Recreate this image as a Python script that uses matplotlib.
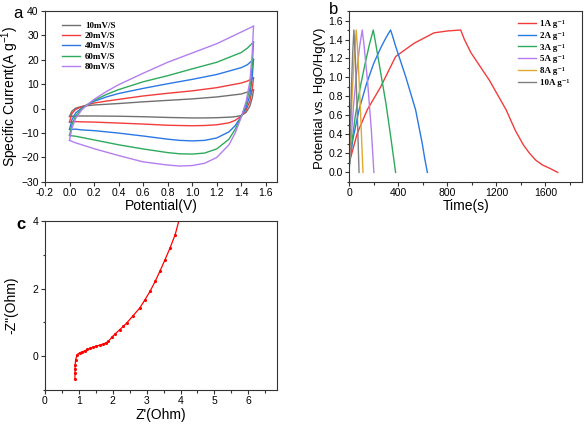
import numpy as np
import matplotlib
matplotlib.use("Agg")
import matplotlib.pyplot as plt
from matplotlib.ticker import MultipleLocator

plt.rcParams['font.family'] = ['Liberation Sans', 'DejaVu Sans']
plt.rcParams['mathtext.default'] = 'regular'

# ---- (a) CV curves, anodic branch (0 -> 1.5 V) and cathodic branch (1.5 -> 0 V)
cv_labels = ["10mV/S", "20mV/S", "40mV/S", "60mV/S", "80mV/S"]
cv_colors = ["#707070", "#f23c3c", "#2a78e4", "#2eaa5c", "#b47ef0"]

cv_up_x = [0, 0.02, 0.05, 0.1, 0.16, 0.2, 0.3, 0.4, 0.6, 0.8, 1.0, 1.2, 1.4, 1.45, 1.5]
cv_up_10 = [-3.2, -1.0, 0.2, 0.9, 1.3, 1.5, 1.8, 2.1, 2.8, 3.4, 4.0, 4.8, 6.0, 6.8, 7.7]
cv_up_20 = [-5.5, -2.0, -0.3, 0.8, 1.8, 2.3, 3.1, 3.8, 5.2, 6.3, 7.3, 8.6, 10.5, 11.3, 12.6]
cv_up_40 = [-8.5, -4.5, -1.8, 0.3, 2.0, 3.0, 4.8, 6.2, 8.3, 10.2, 12.0, 14.0, 16.8, 18.0, 20.2]
cv_up_60 = [-11.0, -6.5, -3.0, 0.0, 2.2, 3.4, 5.8, 7.8, 11.0, 13.5, 16.3, 19.0, 23.0, 24.8, 27.3]
cv_up_80 = [-13.0, -8.0, -4.0, -0.5, 2.2, 3.8, 7.0, 9.8, 14.5, 19.0, 22.8, 26.6, 31.4, 32.6, 33.8]

cv_dn_x = [1.5, 1.49, 1.47, 1.44, 1.4, 1.35, 1.3, 1.2, 1.1, 1.0, 0.9, 0.8, 0.6, 0.4, 0.2, 0.1, 0.05, 0.0]
cv_dn_10 = [7.7, 4.5, 1.0, -1.5, -2.8, -3.3, -3.5, -3.7, -3.8, -3.8, -3.7, -3.6, -3.3, -3.1, -3.0, -3.0, -3.0, -3.2]
cv_dn_20 = [12.6, 8.0, 3.0, -0.5, -3.0, -4.8, -5.8, -6.6, -6.9, -7.0, -6.9, -6.8, -6.3, -5.9, -5.5, -5.4, -5.3, -5.5]
cv_dn_40 = [20.2, 13.0, 5.5, 0.5, -3.2, -7.0, -9.5, -12.0, -13.0, -13.2, -13.0, -12.5, -11.2, -10.0, -9.0, -8.7, -8.4, -8.5]
cv_dn_60 = [27.3, 18.0, 8.5, 2.0, -3.3, -8.5, -12.5, -16.5, -18.2, -18.6, -18.5, -18.0, -16.5, -14.8, -12.8, -11.8, -11.3, -11.0]
cv_dn_80 = [33.8, 23.0, 11.0, 3.0, -3.5, -10.0, -14.8, -20.0, -22.4, -23.3, -23.5, -23.1, -21.8, -19.2, -16.4, -14.8, -14.0, -13.0]

cv_up = [cv_up_10, cv_up_20, cv_up_40, cv_up_60, cv_up_80]
cv_dn = [cv_dn_10, cv_dn_20, cv_dn_40, cv_dn_60, cv_dn_80]

# ---- (b) GCD curves: (time, potential) charge then discharge
gcd_labels = ["1A g\u207b\u00b9", "2A g\u207b\u00b9", "3A g\u207b\u00b9", "5A g\u207b\u00b9",
              "8A g\u207b\u00b9", "10A g\u207b\u00b9"]
gcd_colors = ["#f23c3c", "#2a78e4", "#2eaa5c", "#b47ef0", "#e0aa30", "#808080"]

t_1A = [0, 65, 147, 256, 378, 528, 691, 800, 909, 939, 993, 1143, 1279, 1355, 1420, 1465, 1520, 1573, 1640, 1700]
v_1A = [0.1, 0.41, 0.66, 0.90, 1.22, 1.36, 1.47, 1.49, 1.50, 1.40, 1.26, 0.97, 0.66, 0.44, 0.29, 0.21, 0.13, 0.08, 0.04, 0.0]
t_2A = [0, 30, 80, 140, 200, 260, 300, 337, 350, 378, 460, 541, 596, 615, 637]
v_2A = [0.08, 0.35, 0.66, 0.93, 1.15, 1.32, 1.42, 1.50, 1.45, 1.33, 1.01, 0.66, 0.30, 0.15, 0.0]
t_3A = [0, 20, 50, 90, 130, 165, 196, 210, 250, 300, 340, 360, 378]
v_3A = [0.05, 0.30, 0.60, 0.90, 1.15, 1.35, 1.50, 1.40, 1.10, 0.72, 0.36, 0.17, 0.0]
t_5A = [0, 15, 35, 60, 85, 106, 120, 150, 180, 201]
v_5A = [0.05, 0.35, 0.70, 1.05, 1.33, 1.50, 1.35, 0.95, 0.45, 0.0]
t_8A = [0, 10, 25, 40, 57, 70, 90, 112]
v_8A = [0.05, 0.40, 0.85, 1.20, 1.50, 1.25, 0.70, 0.0]
t_10A = [0, 8, 18, 28, 38, 50, 65, 80]
v_10A = [0.05, 0.45, 0.90, 1.25, 1.50, 1.20, 0.65, 0.0]

gcd_t = [t_1A, t_2A, t_3A, t_5A, t_8A, t_10A]
gcd_v = [v_1A, v_2A, v_3A, v_5A, v_8A, v_10A]

# ---- (c) Nyquist plot
z_re = [0.885, 0.885, 0.887, 0.89, 0.905, 0.95, 1.02, 1.10, 1.17, 1.25, 1.32, 1.42, 1.52, 1.62, 1.72,
        1.80, 1.87, 1.97, 2.08, 2.21, 2.31, 2.41, 2.60, 2.80, 2.95, 3.10, 3.25, 3.39, 3.54, 3.69, 3.84, 3.96]
z_im = [-0.67, -0.5, -0.39, -0.25, -0.10, 0.05, 0.10, 0.13, 0.16, 0.20, 0.23, 0.27, 0.30, 0.33, 0.36,
        0.40, 0.44, 0.56, 0.67, 0.79, 0.88, 0.98, 1.20, 1.43, 1.67, 1.92, 2.21, 2.51, 2.85, 3.20, 3.59, 4.04]

legend_font = {'family': ['Liberation Serif', 'DejaVu Serif'], 'weight': 'bold', 'size': 6.5}


def style_axes(ax):
    for sp in ax.spines.values():
        sp.set_linewidth(0.8)
        sp.set_color("#333333")
    ax.tick_params(which='both', direction='out', labelsize=7.5, width=0.8, pad=1.5,
                   top=False, right=False, colors="#333333", labelcolor='black')
    ax.tick_params(which='major', length=3)
    ax.tick_params(which='minor', length=1.8)


fig = plt.figure(figsize=(5.84, 4.24), dpi=100)

# panel a
ax1 = fig.add_axes([0.077, 0.571, 0.397, 0.403])
for i in range(len(cv_labels)):
    ax1.plot(cv_up_x, cv_up[i], color=cv_colors[i], lw=1.0, label=cv_labels[i])
    ax1.plot(cv_dn_x, cv_dn[i], color=cv_colors[i], lw=1.0)
ax1.set_xlim(-0.2, 1.69)
ax1.set_ylim(-30, 40)
ax1.xaxis.set_major_locator(MultipleLocator(0.2))
ax1.yaxis.set_major_locator(MultipleLocator(10))
ax1.xaxis.set_major_formatter(plt.FormatStrFormatter('%.1f'))
style_axes(ax1)
ax1.set_xlabel("Potential(V)", fontsize=10)
ax1.set_ylabel("Specific Current(A g$^{-1}$)", fontsize=10)
ax1.xaxis.set_label_coords(0.5, -0.10)
ax1.yaxis.set_label_coords(-0.105, 0.5)
ax1.legend(loc='upper left', bbox_to_anchor=(0.055, 0.965), frameon=False, borderpad=0,
           handlelength=2.0, handletextpad=0.5, labelspacing=0.22, prop=legend_font)
fig.text(0.022, 0.985, "a", fontsize=12, va='top')

# panel b
ax2 = fig.add_axes([0.598, 0.571, 0.399, 0.403])
for i in range(len(gcd_labels)):
    ax2.plot(gcd_t[i], gcd_v[i], color=gcd_colors[i], lw=1.0, label=gcd_labels[i])
ax2.set_xlim(0, 1900)
ax2.set_ylim(-0.1, 1.7)
ax2.xaxis.set_major_locator(MultipleLocator(400))
ax2.xaxis.set_minor_locator(MultipleLocator(200))
ax2.yaxis.set_major_locator(MultipleLocator(0.2))
ax2.yaxis.set_minor_locator(MultipleLocator(0.1))
ax2.yaxis.set_major_formatter(plt.FormatStrFormatter('%.1f'))
style_axes(ax2)
ax2.set_xlabel("Time(s)", fontsize=10)
ax2.set_ylabel("Potential vs. HgO/Hg(V)", fontsize=9.5)
ax2.xaxis.set_label_coords(0.5, -0.10)
ax2.yaxis.set_label_coords(-0.10, 0.49)
ax2.legend(loc='upper left', bbox_to_anchor=(0.705, 0.975), frameon=False, borderpad=0,
           handlelength=2.0, handletextpad=0.4, labelspacing=0.38, prop=legend_font)
fig.text(0.563, 0.995, "b", fontsize=12, va='top')

# panel c
ax3 = fig.add_axes([0.077, 0.080, 0.397, 0.399])
ax3.plot(z_re, z_im, color='red', lw=0.9, marker='.', ms=2.5)
ax3.set_xlim(0, 6.84)
ax3.set_ylim(-1, 4)
ax3.xaxis.set_major_locator(MultipleLocator(1))
ax3.xaxis.set_minor_locator(MultipleLocator(0.5))
ax3.yaxis.set_major_locator(MultipleLocator(2))
ax3.yaxis.set_minor_locator(MultipleLocator(1))
style_axes(ax3)
ax3.set_xlabel("Z'(Ohm)", fontsize=10)
ax3.set_ylabel('-Z"(Ohm)', fontsize=10)
ax3.xaxis.set_label_coords(0.5, -0.105)
ax3.yaxis.set_label_coords(-0.115, 0.5)
fig.text(0.028, 0.488, "c", fontsize=12, fontweight='bold', va='top')

plt.savefig("out.png", dpi=100)
